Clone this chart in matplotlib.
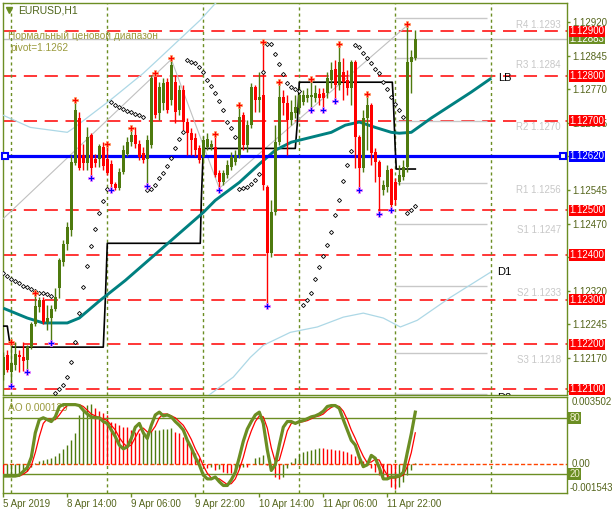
import matplotlib
matplotlib.use('Agg')
import matplotlib.pyplot as plt
import matplotlib.transforms as mtrans
import numpy as np

plt.rcParams['font.family'] = ['Liberation Sans', 'DejaVu Sans']
plt.rcParams['lines.scale_dashes'] = False

# ---------------- data ----------------
symbol = 'EURUSD,H1'
range_title = 'Нормальный ценовой диапазон'
pivot_main = 1.1262
current_price = 1.12883
ao_title = 'AO 0.000129'

opens = [1.12131,1.12176,1.12138,1.12154,1.12176,1.12171,1.12165,1.12194,1.12245,1.12283,
         1.12299,1.12250,1.12259,1.12279,1.12326,1.12384,1.12424,1.12455,1.12605,1.12706,
         1.12623,1.12605,1.12668,1.12614,1.12614,1.12641,1.12614,1.12603,1.12558,1.12549,
         1.12585,1.12625,1.12652,1.12668,1.12649,1.12627,1.12614,1.12645,1.12797,1.12717,
         1.12739,1.12786,1.12746,1.12786,1.12723,1.12768,1.12697,1.12672,1.12661,1.12638,
         1.12618,1.12641,1.12641,1.12641,1.12583,1.12562,1.12578,1.12596,1.12607,1.12623,
         1.12712,1.12645,1.12690,1.12775,1.12746,1.12757,1.12551,1.12404,1.12495,1.12652,
         1.12752,1.12739,1.12701,1.12717,1.12728,1.12741,1.12750,1.12752,1.12750,1.12759,
         1.12761,1.12761,1.12791,1.12815,1.12779,1.12808,1.12791,1.12773,1.12831,1.12663,
         1.12594,1.12706,1.12735,1.12630,1.12607,1.12545,1.12551,1.12592,1.12562,1.12562,
         1.12574,1.12596,1.12831,1.12840]
highs = [1.12183,1.12187,1.12203,1.12205,1.12187,1.12205,1.12198,1.12250,1.12312,1.12306,
         1.12306,1.12288,1.12288,1.12326,1.12393,1.12433,1.12473,1.12623,1.12744,1.12719,
         1.12649,1.12685,1.12672,1.12625,1.12649,1.12652,1.12645,1.12612,1.12562,1.12594,
         1.12645,1.12663,1.12681,1.12685,1.12656,1.12641,1.12668,1.12802,1.12804,1.12786,
         1.12795,1.12795,1.12837,1.12802,1.12779,1.12779,1.12706,1.12683,1.12672,1.12645,
         1.12665,1.12672,1.12656,1.12668,1.12589,1.12589,1.12612,1.12630,1.12634,1.12732,
         1.12719,1.12701,1.12784,1.12779,1.12808,1.12873,1.12556,1.12522,1.12690,1.12784,
         1.12768,1.12757,1.12746,1.12757,1.12773,1.12768,1.12773,1.12791,1.12779,1.12773,
         1.12773,1.12808,1.12831,1.12835,1.12869,1.12840,1.12813,1.12835,1.12835,1.12668,
         1.12723,1.12757,1.12739,1.12638,1.12612,1.12567,1.12601,1.12594,1.12571,1.12601,
         1.12612,1.12913,1.12858,1.12902]
lows = [1.12120,1.12138,1.12111,1.12142,1.12138,1.12140,1.12142,1.12189,1.12241,1.12272,
        1.12245,1.12232,1.12207,1.12274,1.12303,1.12375,1.12410,1.12442,1.12601,1.12589,
        1.12589,1.12589,1.12576,1.12596,1.12596,1.12589,1.12578,1.12547,1.12545,1.12545,
        1.12580,1.12621,1.12643,1.12638,1.12612,1.12605,1.12558,1.12638,1.12706,1.12701,
        1.12723,1.12717,1.12735,1.12694,1.12712,1.12679,1.12623,1.12623,1.12621,1.12605,
        1.12605,1.12634,1.12634,1.12574,1.12549,1.12556,1.12571,1.12589,1.12601,1.12616,
        1.12634,1.12630,1.12683,1.12719,1.12719,1.12545,1.12290,1.12395,1.12489,1.12645,
        1.12712,1.12623,1.12690,1.12706,1.12719,1.12735,1.12741,1.12728,1.12741,1.12735,
        1.12728,1.12750,1.12773,1.12746,1.12768,1.12746,1.12757,1.12735,1.12594,1.12549,
        1.12585,1.12634,1.12601,1.12562,1.12495,1.12533,1.12540,1.12504,1.12511,1.12556,
        1.12567,1.12585,1.12761,1.12835]
closes = [1.12171,1.12142,1.12158,1.12178,1.12171,1.12162,1.12194,1.12245,1.12285,1.12299,
          1.12250,1.12259,1.12279,1.12306,1.12388,1.12424,1.12462,1.12607,1.12723,1.12594,
          1.12605,1.12663,1.12594,1.12605,1.12643,1.12598,1.12583,1.12558,1.12549,1.12585,
          1.12634,1.12652,1.12668,1.12649,1.12618,1.12612,1.12656,1.12795,1.12712,1.12775,
          1.12784,1.12723,1.12824,1.12719,1.12768,1.12697,1.12672,1.12656,1.12634,1.12612,
          1.12656,1.12659,1.12649,1.12578,1.12562,1.12583,1.12601,1.12618,1.12623,1.12708,
          1.12645,1.12690,1.12775,1.12746,1.12752,1.12556,1.12404,1.12495,1.12652,1.12752,
          1.12739,1.12701,1.12719,1.12730,1.12757,1.12757,1.12757,1.12757,1.12761,1.12750,
          1.12750,1.12795,1.12813,1.12779,1.12831,1.12786,1.12773,1.12831,1.12663,1.12594,
          1.12706,1.12735,1.12627,1.12607,1.12574,1.12556,1.12589,1.12511,1.12522,1.12578,
          1.12596,1.12831,1.12842,1.12883]

sar = [1.12359,1.12352,1.12346,1.12341,1.12337,1.12330,1.12328,1.12323,1.12319,1.12314,
       1.12314,1.12312,1.12308,1.12091,1.12100,1.12109,1.12127,1.12160,1.12205,1.12270,
       1.12328,1.12375,1.12419,1.12458,1.12493,1.12520,1.12547,1.12741,1.12735,1.12730,
       1.12726,1.12721,1.12719,1.12715,1.12712,1.12708,1.12545,1.12547,1.12556,1.12571,
       1.12583,1.12598,1.12616,1.12638,1.12659,1.12674,1.12835,1.12831,1.12829,1.12820,
       1.12808,1.12791,1.12777,1.12761,1.12744,1.12723,1.12697,1.12683,1.12663,1.12547,
       1.12549,1.12551,1.12558,1.12567,1.12580,1.12808,1.12871,1.12871,1.12849,1.12826,
       1.12804,1.12784,1.12775,1.12770,1.12766,1.12288,1.12299,1.12314,1.12346,1.12373,
       1.12397,1.12422,1.12451,1.12489,1.12522,1.12565,1.12601,1.12632,1.12869,1.12864,
       1.12851,1.12840,1.12829,1.12815,1.12806,1.12786,1.12770,1.12752,1.12737,1.12723,
       1.12708,1.12493,1.12500,1.12509]

fractal_up = [2, 8, 18, 26, 32, 38, 42, 53, 59, 65, 69, 77, 84, 91, 101]
fractal_dn = [2, 6, 12, 22, 27, 36, 54, 66, 77, 80, 83, 89, 94, 97]

ma_x = [0, 6, 10, 16, 19, 24, 30.5, 40, 50, 53, 59, 64, 68, 72, 77, 82, 85.5, 89, 93, 97, 99, 102, 107, 112, 117, 122]
ma_y = [1.12281, 1.12259, 1.12248, 1.12248, 1.12259, 1.12297, 1.12343, 1.12417, 1.12495, 1.12522,
        1.12562, 1.12603, 1.12634, 1.12652, 1.12663, 1.12674, 1.12690, 1.12697, 1.12685, 1.12674,
        1.12672, 1.12674, 1.12706, 1.12735, 1.12764, 1.12795]

d1_x = [51, 57.5, 61.75, 65, 71.75, 78.5, 85, 90, 95, 99.25, 103.5, 111.75, 121.75]
d1_y = [1.12084, 1.12127, 1.12171, 1.12198, 1.12227, 1.12239, 1.12261, 1.12270, 1.12259, 1.12239,
        1.12254, 1.12305, 1.12361]

upper_x = [0, 6.75, 16, 17.5, 26.75, 35, 38.5, 49.25, 53, 56.75]
upper_y = [1.12712, 1.12685, 1.12674, 1.12683, 1.12746, 1.12806, 1.12835, 1.12925, 1.12962, 1.12991]

zz_x = [-0.5, 42, 54, 101]
zz_y = [1.12477, 1.12837, 1.12549, 1.12913]

step_x = [0, 1, 1.5, 2.25, 25, 25.5, 26, 49.25, 49.5, 50, 73, 73.5, 74, 97.25, 97.5, 98, 98.25, 103]
step_y = [1.12241, 1.12241, 1.12210, 1.12194, 1.12194, 1.12299, 1.12426, 1.12426, 1.12522, 1.12638,
          1.12638, 1.12694, 1.12786, 1.12786, 1.12746, 1.12634, 1.12592, 1.12592]

round_levels = [1.129, 1.128, 1.127, 1.125, 1.124, 1.123, 1.122, 1.121]
price_ticks = [1.12920, 1.12845, 1.12770, 1.12695, 1.12620, 1.12545, 1.12470, 1.12395,
               1.12320, 1.12245, 1.12170, 1.12095]
hidden_ticks = [1.12620, 1.12395, 1.12095]   # covered by the level boxes in the reference
pivot_names = ['R4', 'R3', 'R2', 'R1', 'S1', 'S2', 'S3', 'S4']
pivot_values = [1.1293, 1.1284, 1.1270, 1.1256, 1.1247, 1.1233, 1.1218, 1.1209]

time_ticks = [0, 16, 32, 48, 64, 80, 96]
time_labels = ['5 Apr 2019', '8 Apr 14:00', '9 Apr 06:00', '9 Apr 22:00',
               '10 Apr 14:00', '11 Apr 06:00', '11 Apr 22:00']
day_breaks = [2, 26, 50, 74, 98, 122]

ao = [-0.00063,-0.00063,-0.00058,-0.00058,-0.00058,-0.00047,-0.00037,-0.00016,0.00005,0.00016,
      0.00021,0.00026,0.00032,0.00042,0.00058,0.00079,0.00100,0.00126,0.00163,0.00258,
      0.00284,0.00310,0.00316,0.00295,0.00274,0.00268,0.00258,0.00221,0.00216,0.00205,
      0.00195,0.00192,0.00179,0.00168,0.00163,0.00166,0.00168,0.00174,0.00176,0.00179,
      0.00181,0.00184,0.00187,0.00168,0.00163,0.00142,0.00126,0.00089,0.00058,0.00032,
      -0.00005,-0.00021,-0.00016,-0.00032,-0.00026,-0.00042,-0.00047,-0.00050,-0.00032,-0.00021,
      -0.00016,-0.00018,0.00000,0.00032,0.00037,0.00047,-0.00005,-0.00032,-0.00068,-0.00079,
      -0.00068,-0.00021,0.00011,0.00032,0.00053,0.00063,0.00068,0.00074,0.00079,0.00084,
      0.00082,0.00079,0.00076,0.00074,0.00071,0.00068,0.00063,0.00053,0.00042,0.00032,
      0.00016,0.00000,-0.00021,-0.00042,-0.00058,-0.00068,-0.00079,-0.00121,-0.00131,-0.00121,
      -0.00095,-0.00058,-0.00032,0.00005]
ao_scale = [-0.001543, 0.003502]

stoch_main = [18,18,18,18,19,23,27,38,64,78,
              80,78,76,81,92,94,94,94,94,93,
              88,84,81,80,80,76,74,67,60,51,
              47,49,58,70,74,64,58,72,83,86,
              82,83,81,76,72,67,56,48,38,30,
              19,15,15,17,12,8,8,14,22,38,
              55,68,76,83,86,74,46,24,30,51,
              70,76,76,74,76,77,79,81,82,84,
              87,92,93,93,90,78,67,56,51,38,
              28,30,40,37,27,15,15,17,17,18,
              22,43,63,86]
stoch_signal = [18,18,18,18,18,20,23,29,43,60,
                74,79,78,78,83,89,93,94,94,94,
                92,88,84,82,80,79,77,72,67,59,
                53,49,51,59,67,69,65,65,71,80,
                84,84,82,80,76,72,65,57,47,39,
                29,21,16,16,15,12,9,10,15,25,
                38,54,66,76,82,81,69,48,33,35,
                50,66,74,75,75,76,77,79,81,82,
                84,88,91,93,92,87,78,67,58,48,
                39,32,33,36,35,26,19,16,16,17,
                19,28,43,64]
stoch_levels = [80, 20]

# ---------------- figure ----------------
W, H = 612, 514
fig = plt.figure(figsize=(W / 100, H / 100), dpi=100)
fig.patch.set_facecolor('white')
olive = '#6B8E23'
txt_col = '#55651c'
ind_col = '#9a9a3c'
bull = '#4E7A0E'
bear = '#FF0000'

ax = fig.add_axes([3 / W, 1 - 395 / H, 564 / W, 392 / H])
ax2 = fig.add_axes([3 / W, 1 - 493 / H, 564 / W, 96 / H])
ax3 = ax2.twinx()

xlim = (-0.075, 140.925)
for a in (ax, ax2, ax3):
    a.set_xlim(*xlim)
    a.set_facecolor('none')
ax.set_ylim(1.12087, 1.12963)
ax2.set_ylim(*ao_scale)
ax3.set_ylim(0, 102.1)

for a in (ax, ax2):
    for s in a.spines.values():
        s.set_color(olive)
        s.set_linewidth(1)
for s in ax3.spines.values():
    s.set_visible(False)

idx = np.arange(len(opens))
o = np.array(opens); h = np.array(highs); l = np.array(lows); c = np.array(closes)

# horizontal reference lines
ax.axhline(current_price, color='#C0C0C0', lw=1, zorder=1)
for lv in round_levels:
    ax.axhline(lv, color='#FF0000', lw=1.1, ls=(0, (9.5, 5.5)), zorder=2)
for d in day_breaks:
    ax.axvline(d, color=olive, lw=1, ls=(0, (2.2, 2.2)), zorder=2)
    ax2.axvline(d, color=olive, lw=1, ls=(0, (2.2, 2.2)), zorder=2)

# pivot levels (short gray lines + labels)
ax.hlines(pivot_values, 98, 121, color='#C8C8C8', lw=1, zorder=2)
tr_lbl = mtrans.blended_transform_factory(ax.transAxes, ax.transData)
for n, v in zip(pivot_names, pivot_values):
    ax.text(0.9894, v - 0.00004, f'{n} {v:.4f}', transform=tr_lbl, ha='right', va='top',
            color='#C8C8C8', fontsize=7, zorder=3, clip_on=True)

# channel lines, zigzag, step line, MA
ax.plot(upper_x, upper_y, color='#ADD8E6', lw=0.9, zorder=3)
ax.plot(d1_x, d1_y, color='#ADD8E6', lw=0.9, zorder=3)
ax.plot(zz_x, zz_y, color='#C0C0C0', lw=0.8, zorder=3)
ax.plot(step_x, step_y, color='black', lw=1.2, zorder=3)
ax.plot(ma_x, ma_y, color='#008080', lw=2.1, zorder=4, solid_capstyle='butt')
ax.axhline(pivot_main, color='#0000FF', lw=2.3, zorder=4)
ax.plot([0.4, 139.9], [pivot_main, pivot_main], ls='none', marker='s', ms=5,
        mfc='white', mec='#0000FF', mew=1.5, zorder=6, clip_on=False)

# candles
up = c >= o
cols = np.where(up, bull, bear)
ax.vlines(idx, l, h, colors=cols, lw=1, zorder=5)
body = np.maximum(np.abs(c - o), 0.00002)
ax.bar(idx, body, bottom=np.minimum(o, c), width=0.75, color=cols, lw=0, zorder=5)

# parabolic SAR and fractals
ax.plot(idx, sar, ls='none', marker='D', ms=2.1, mfc='white', mec='black', mew=0.6, zorder=6)
fu = np.array(fractal_up); fd = np.array(fractal_dn)
ax.plot(fu, h[fu] + 0.00003, ls='none', marker='P', ms=4.2, mfc='#FF0000', mec='#FFA060', mew=0.5, zorder=7)
ax.plot(fd, l[fd] - 0.00003, ls='none', marker='P', ms=4.2, mfc='#0000FF', mec='#FF80FF', mew=0.5, zorder=7)

# line labels
ax.text(ma_x[-1] + 1.6, ma_y[-1], 'LB', fontsize=8, va='center', color='black', zorder=8)
ax.text(d1_x[-1] + 1.8, d1_y[-1], 'D1', fontsize=8, va='center', color='black', zorder=8)
ax.text(d1_x[-1] + 1.8, 1.12080, 'D2', fontsize=8, va='center', color='black', zorder=8, clip_on=True)

# titles
ax.plot([0.0106], [0.982], marker='v', ms=4.5, color=olive, transform=ax.transAxes, clip_on=False)
ax.text(0.0266, 0.982, symbol, transform=ax.transAxes, fontsize=7.5, color='#4d6419', va='center')
ax.text(0.0089, 0.915, range_title, transform=ax.transAxes, fontsize=7.3, color=ind_col, va='center')
ax.text(0.0124, 0.884, f'pivot={pivot_main:.4f}', transform=ax.transAxes, fontsize=7.3, color=ind_col, va='center')

# price axis
ax.set_xticks([])
ax.yaxis.tick_right()
ax.set_yticks(price_ticks)
ax.set_yticklabels(['' if t in hidden_ticks else f'{t:.5f}' for t in price_ticks])
ax.tick_params(axis='y', direction='out', length=2.5, width=1, color=olive,
               labelcolor=txt_col, labelsize=7, pad=1.5)

box_kw = dict(transform=tr_lbl, ha='left', va='center', color='white', fontsize=7,
              clip_on=False)
ax.text(1.0045, current_price, f'{current_price:.5f}', zorder=9,
        bbox=dict(boxstyle='square,pad=0.06', fc=olive, ec='none'), **box_kw)
for lv in round_levels:
    ax.text(1.0045, lv, f'{lv:.5f}', zorder=10,
            bbox=dict(boxstyle='square,pad=0.06', fc='#FF0000', ec='none'), **box_kw)
ax.text(1.0045, pivot_main, f'{pivot_main:.5f}', zorder=10,
        bbox=dict(boxstyle='square,pad=0.06', fc='#0000FF', ec='none'), **box_kw)

# ---------------- AO / stochastic panel ----------------
ao_arr = np.array(ao)
ao_cols = [bear] + [bull if ao_arr[i] >= ao_arr[i - 1] else bear for i in range(1, len(ao_arr))]
ax2.vlines(idx, 0, ao_arr, colors=ao_cols, lw=1, zorder=3)
ax2.axhline(0, color='#FF4500', lw=1, ls=(0, (3, 1.6)), zorder=2)
for lv in stoch_levels:
    ax3.axhline(lv, color=olive, lw=1, zorder=2)
ax3.plot(idx, stoch_signal, color='#FF0000', lw=0.9, zorder=4)
ax3.plot(idx, stoch_main, color=olive, lw=2.3, zorder=5)
ax3.set_yticks([])
ax2.set_yticks([])

ax2.text(0.009, 0.89, ao_title, transform=ax2.transAxes, fontsize=7.3, color=ind_col, va='center', zorder=1)

tr2 = mtrans.blended_transform_factory(ax2.transAxes, ax2.transData)
ax2.text(1.009, ao_scale[1], f'{ao_scale[1]:.6f}', transform=tr2, ha='left', va='top',
         fontsize=7, color=txt_col, clip_on=False)
ax2.text(1.009, 0, '0.00', transform=tr2, ha='left', va='center', fontsize=7, color=txt_col, clip_on=False)
ax2.text(1.005, ao_scale[0], f'{ao_scale[0]:.6f}', transform=tr2, ha='left', va='bottom',
         fontsize=7, color=txt_col, clip_on=False)
tr3 = mtrans.blended_transform_factory(ax3.transAxes, ax3.transData)
for lv in stoch_levels:
    ax3.text(1.004, lv, f'{lv}', transform=tr3, ha='left', va='center', fontsize=7, color='#F0F0D0',
             clip_on=False, zorder=10, bbox=dict(boxstyle='square,pad=0.08', fc=olive, ec='none'))

ax2.set_xticks(time_ticks)
ax2.set_xticklabels(time_labels)
for lbl in ax2.get_xticklabels():
    lbl.set_ha('left')
ax2.tick_params(axis='x', direction='out', length=3, width=1, color=olive,
                labelcolor=txt_col, labelsize=7, pad=1.5)
ax3.tick_params(axis='x', bottom=False, labelbottom=False)

fig.savefig('out.png', dpi=100, facecolor='white')
